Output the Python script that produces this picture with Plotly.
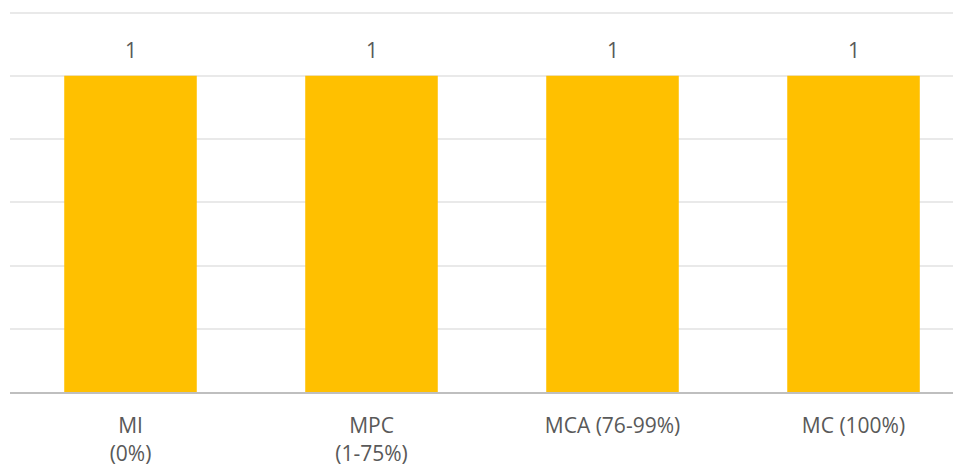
import plotly.graph_objects as go

categories = ["MI<br>(0%)", "MPC<br>(1-75%)", "MCA (76-99%)", "MC (100%)"]
values = [1, 1, 1, 1]
value_labels = ["1", "1", "1", "1"]

FONT = "Open Sans"
GREY = "#595959"

fig = go.Figure(go.Bar(
    x=categories,
    y=values,
    marker=dict(color="#FFC000", line=dict(width=0)),
    hoverinfo="x+y",
))

for cat, val, lab in zip(categories, values, value_labels):
    fig.add_annotation(
        x=cat, y=val, text=lab, showarrow=False,
        yanchor="bottom", yshift=10,
        font=dict(size=21, color=GREY, family=FONT),
    )

fig.update_layout(
    width=953, height=458,
    margin=dict(l=2, r=0, t=3, b=74, autoexpand=False),
    paper_bgcolor="white",
    plot_bgcolor="white",
    bargap=0.45,
    showlegend=False,
    font=dict(family=FONT, size=21, color=GREY),
)
fig.update_xaxes(
    range=[-0.5, 3.446], automargin=False,
    showline=True, linecolor="#BFBFBF", linewidth=2,
    ticks="", ticklabelstandoff=14,
    tickfont=dict(size=21, color=GREY, family=FONT),
    showgrid=False,
)
fig.update_yaxes(
    range=[0, 1.205], dtick=0.2, automargin=False,
    showgrid=True, gridcolor="#E9E9E9", gridwidth=1.5,
    showticklabels=False, zeroline=False, ticks="",
)

fig.write_html("out.html")
